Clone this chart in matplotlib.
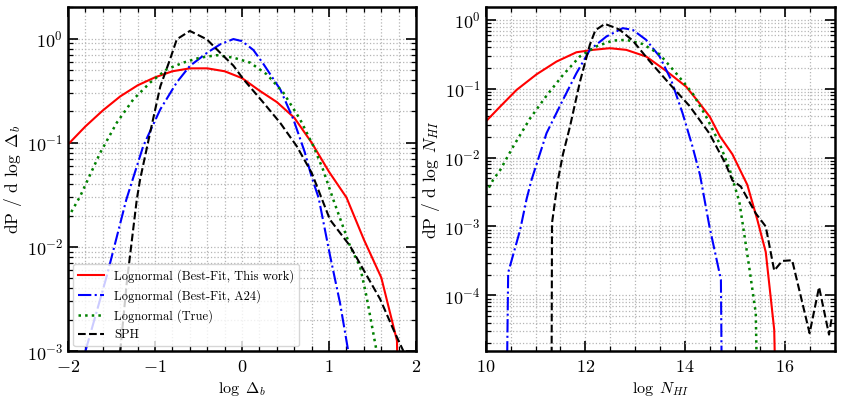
import numpy as np
import matplotlib
matplotlib.use("Agg")
import matplotlib.pyplot as plt
from matplotlib.ticker import MultipleLocator, LogLocator, NullFormatter

plt.rcParams['font.family'] = 'serif'
plt.rcParams['font.serif'] = ['cmr10']
plt.rcParams['mathtext.fontset'] = 'cm'
plt.rcParams['axes.formatter.use_mathtext'] = True

# ---------------- Left panel data (log Delta_b, log10 of dP/dlogDelta) ----------------
red_l_x = [-2.0, -1.8, -1.6, -1.4, -1.2, -1.0, -0.8, -0.6, -0.4, -0.2, 0.0, 0.2, 0.4, 0.6,
           0.8, 1.0, 1.2, 1.4, 1.6, 1.78, 1.8]
red_l_log10 = [-1.016, -0.843, -0.69, -0.555, -0.449, -0.372, -0.314, -0.286, -0.286, -0.314,
               -0.38, -0.50, -0.61, -0.76, -1.0, -1.28, -1.526, -1.93, -2.295, -2.9, -4.0]

blue_l_x = [-1.80, -1.555, -1.33, -1.135, -0.94, -0.75, -0.6, -0.4, -0.25, -0.1, 0.0, 0.13,
            0.25, 0.44, 0.59, 0.72, 0.8, 0.88, 1.01, 1.126, 1.22]
blue_l_log10 = [-3.0, -2.28, -1.545, -1.03, -0.68, -0.42, -0.263, -0.135, -0.055, -0.005,
                -0.025, -0.11, -0.25, -0.49, -0.776, -1.09, -1.33, -1.53, -2.08, -2.54, -3.0]

green_l_x = [-2.0, -1.86, -1.63, -1.44, -1.25, -1.057, -0.866, -0.675, -0.483, -0.29, -0.1,
             0.092, 0.283, 0.475, 0.667, 0.82, 0.93, 1.05, 1.24, 1.356, 1.43, 1.546]
green_l_log10 = [-1.72, -1.513, -1.096, -0.808, -0.584, -0.423, -0.295, -0.231, -0.183, -0.16,
                 -0.183, -0.231, -0.343, -0.52, -0.776, -1.033, -1.257, -1.55, -1.99, -2.19,
                 -2.475, -3.0]

black_l_x = [-1.40, -1.326, -1.21, -1.172, -1.057, -0.94, -0.828, -0.75, -0.6, -0.406, -0.253,
             -0.1, 0.015, 0.245, 0.437, 0.628, 0.8, 1.01, 1.24, 1.394, 1.586, 1.74, 1.854]
black_l_log10 = [-3.0, -2.35, -1.545, -1.353, -0.904, -0.46, -0.2, -0.007, 0.073, -0.007, -0.135,
                 -0.26, -0.39, -0.615, -0.808, -1.033, -1.289, -1.738, -1.99, -2.218, -2.5,
                 -2.795, -3.0]

# ---------------- Right panel data (log N_HI) ----------------
red_r_x = [10.0, 10.29, 10.62, 11.02, 11.42, 11.82, 12.15, 12.49, 12.82, 13.22, 13.62, 14.02,
           14.29, 14.5, 14.7, 14.95, 15.25, 15.45, 15.62, 15.79, 15.82]
red_r_log10 = [-1.476, -1.258, -1.016, -0.79, -0.605, -0.47, -0.435, -0.411, -0.435, -0.532,
               -0.74, -0.968, -1.21, -1.41, -1.69, -1.95, -2.395, -2.9, -3.37, -4.5, -5.5]

blue_r_x = [10.42, 10.45, 10.69, 10.82, 10.92, 11.22, 11.55, 11.82, 12.09, 12.42, 12.75,
            12.95, 13.22, 13.49, 13.72, 13.95, 14.15, 14.3, 14.49, 14.72, 14.74]
blue_r_log10 = [-5.5, -3.67, -3.05, -2.6, -2.32, -1.645, -1.16, -0.774, -0.435, -0.242, -0.12,
                -0.145, -0.29, -0.532, -0.87, -1.354, -1.84, -2.25, -3.0, -3.77, -5.5]

green_r_x = [10.0, 10.15, 10.29, 10.55, 10.89, 11.22, 11.55, 11.89, 12.22, 12.55, 12.82, 13.15,
             13.49, 13.82, 14.15, 14.42, 14.69, 14.9, 15.09, 15.29, 15.42, 15.45]
green_r_log10 = [-2.52, -2.32, -2.18, -1.84, -1.43, -1.1, -0.8, -0.53, -0.385, -0.3, -0.29,
                 -0.35, -0.5, -0.774, -1.064, -1.40, -1.79, -2.18, -2.64, -3.6, -4.26, -5.5]

black_r_x = [11.32, 11.33, 11.45, 11.55, 11.69, 11.89, 12.09, 12.2, 12.39, 12.62, 12.69, 12.95,
             13.29, 13.69, 14.09, 14.49, 14.82, 14.95, 15.12, 15.42, 15.62, 15.79, 15.95,
             16.15, 16.5, 16.69, 16.89, 16.95]
black_r_log10 = [-5.5, -2.95, -2.32, -1.95, -1.55, -0.9, -0.36, -0.15, -0.058, -0.12, -0.145,
                 -0.3, -0.6, -0.93, -1.25, -1.65, -2.1, -2.33, -2.42, -2.81, -3.0, -3.64, -3.5,
                 -3.49, -4.55, -3.88, -4.57, -4.3]

labels = ['Lognormal (Best-Fit, This work)', 'Lognormal (Best-Fit, A24)',
          'Lognormal (True)', 'SPH']

fig = plt.figure(figsize=(8.42, 3.99), dpi=100)
ax1 = fig.add_axes([0.0808, 0.12, 0.4134, 0.862])
ax2 = fig.add_axes([0.5769, 0.12, 0.4142, 0.862])


def style(ax):
    ax.set_yscale('log')
    ax.tick_params(which='both', direction='in', top=True, right=True, labelsize=13)
    ax.tick_params(axis='x', which='major', pad=6)
    ax.tick_params(which='major', length=7, width=1.2)
    ax.tick_params(which='minor', length=3.5, width=0.9)
    ax.yaxis.set_major_locator(LogLocator(base=10, numticks=20))
    ax.yaxis.set_minor_locator(LogLocator(base=10, subs=np.arange(2, 10), numticks=20))
    ax.yaxis.set_minor_formatter(NullFormatter())
    ax.grid(True, which='both', linestyle=':', color='#b5b5b5', linewidth=0.9)
    ax.set_axisbelow(True)
    for s in ax.spines.values():
        s.set_linewidth(1.8)


def draw(ax, data):
    (rx, ry), (bx, by), (gx, gy), (kx, ky) = data
    ax.plot(rx, 10 ** np.array(ry), color='red', lw=1.5, ls='-', label=labels[0])
    ax.plot(bx, 10 ** np.array(by), color='blue', lw=1.5, ls='-.', label=labels[1])
    ax.plot(gx, 10 ** np.array(gy), color='green', lw=1.8, ls=':', label=labels[2])
    ax.plot(kx, 10 ** np.array(ky), color='black', lw=1.5, ls='--', label=labels[3])


draw(ax1, [(red_l_x, red_l_log10), (blue_l_x, blue_l_log10),
           (green_l_x, green_l_log10), (black_l_x, black_l_log10)])
style(ax1)
ax1.set_xlim(-2, 2)
ax1.set_ylim(1e-3, 2.0)
ax1.xaxis.set_major_locator(MultipleLocator(1))
ax1.xaxis.set_minor_locator(MultipleLocator(0.2))
ax1.set_xlabel(r'$\log\ \Delta_b$', fontsize=11.5, labelpad=3)
ax1.set_ylabel(r'dP / d $\log\ \Delta_b$', fontsize=12.5, labelpad=2)
leg = ax1.legend(loc='lower left', fontsize=9, frameon=True, fancybox=True,
                 framealpha=0.8, edgecolor='#cccccc', handlelength=2.1,
                 borderaxespad=0.4)

draw(ax2, [(red_r_x, red_r_log10), (blue_r_x, blue_r_log10),
           (green_r_x, green_r_log10), (black_r_x, black_r_log10)])
style(ax2)
ax2.set_xlim(10, 17)
ax2.set_ylim(1.55e-5, 1.53)
ax2.xaxis.set_major_locator(MultipleLocator(2))
ax2.xaxis.set_minor_locator(MultipleLocator(0.5))
ax2.set_xlabel(r'$\log\ N_{HI}$', fontsize=11.5, labelpad=3)
ax2.set_ylabel(r'dP / d $\log\ N_{HI}$', fontsize=12.5, labelpad=2)

fig.savefig('out.png', dpi=100)
